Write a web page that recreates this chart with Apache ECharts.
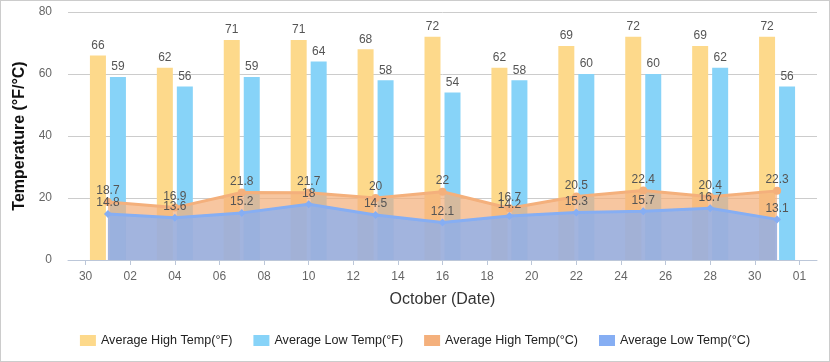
<!DOCTYPE html>
<html>
<head>
<meta charset="utf-8">
<script src="https://cdn.jsdelivr.net/npm/echarts@6/dist/echarts.min.js"></script>
<style>
  html, body { margin: 0; padding: 0; background: #fff; }
  #chart { width: 830px; height: 362px; box-sizing: border-box; border: 1px solid #ccc; }
</style>
</head>
<body>
<div id="chart"></div>
<script>
// ---- data ----
const dates = ['2023-10-01','2023-10-04','2023-10-07','2023-10-10','2023-10-13','2023-10-16','2023-10-19','2023-10-22','2023-10-25','2023-10-28','2023-10-31'];
const highF = [66, 62, 71, 71, 68, 72, 62, 69, 72, 69, 72];
const lowF  = [59, 56, 59, 64, 58, 54, 58, 60, 60, 62, 56];
const highC = [18.7, 16.9, 21.8, 21.7, 20, 22, 16.7, 20.5, 22.4, 20.4, 22.3];
const lowC  = [14.8, 13.6, 15.2, 18, 14.5, 12.1, 14.2, 15.3, 15.7, 16.7, 13.1];
const tickDates = ['2023-09-30','2023-10-02','2023-10-04','2023-10-06','2023-10-08','2023-10-10','2023-10-12','2023-10-14','2023-10-16','2023-10-18','2023-10-20','2023-10-22','2023-10-24','2023-10-26','2023-10-28','2023-10-30','2023-11-01'];
const tickLabels = ['30','02','04','06','08','10','12','14','16','18','20','22','24','26','28','30','01'];
const seriesNames = ['Average High Temp(°F)','Average Low Temp(°F)','Average High Temp(°C)','Average Low Temp(°C)'];
const yTicks = [0, 20, 40, 60, 80];

// ---- helpers: dates -> day offset from first tick date ----
const DAY = 86400000;
function utc(s) { const p = s.split('-').map(Number); return Date.UTC(p[0], p[1] - 1, p[2]); }
const origin = utc(tickDates[0]);
const dayOf = (s) => Math.round((utc(s) - origin) / DAY);
const tickDays = tickDates.map(dayOf);
const xMin = tickDays[0] - 0.79;
const xMax = tickDays[tickDays.length - 1] + 0.79;
const pairs = (vals) => dates.map((d, i) => [dayOf(d), vals[i]]);

const colors = ['#FDD98B', '#87D3F8', '#F4B07C', '#86AEF3'];
const labelColor = '#555';

const chart = echarts.init(document.getElementById('chart'), null, { renderer: 'canvas' });
chart.setOption({
  animation: false,
  color: colors,
  textStyle: { fontFamily: 'Liberation Sans, Arial, sans-serif' },
  grid: { left: 67, right: 12, top: 11, bottom: 101, containLabel: false },
  legend: {
    bottom: 9,
    left: 'center',
    itemWidth: 16,
    itemHeight: 11,
    itemGap: 21,
    icon: 'rect',
    textStyle: { fontSize: 12.6, color: '#222' },
    data: seriesNames
  },
  xAxis: {
    type: 'value',
    min: xMin,
    max: xMax,
    name: 'October (Date)',
    nameLocation: 'middle',
    nameGap: 32,
    nameTextStyle: { fontSize: 16, color: '#333' },
    axisLine: { show: true, lineStyle: { color: '#bcc7d9' } },
    axisTick: { show: true, length: 5, customValues: tickDays, lineStyle: { color: '#bcc7d9' } },
    axisLabel: {
      customValues: tickDays,
      color: '#666',
      fontSize: 12,
      margin: 11,
      formatter: function (v) {
        const i = tickDays.indexOf(Math.round(v));
        return i >= 0 ? tickLabels[i] : '';
      }
    },
    splitLine: { show: false }
  },
  yAxis: {
    type: 'value',
    min: yTicks[0],
    max: yTicks[yTicks.length - 1],
    interval: 20,
    name: 'Temperature (°F/°C)',
    nameLocation: 'middle',
    nameGap: 38,
    nameTextStyle: { fontSize: 16, fontWeight: 'bold', color: '#111' },
    axisLine: { show: false },
    axisTick: { show: false },
    axisLabel: { color: '#666', fontSize: 12, margin: 16 },
    splitLine: { lineStyle: { color: '#ccc' } }
  },
  series: [
    {
      name: seriesNames[0], type: 'bar', data: pairs(highF),
      barWidth: 16, barGap: '25%',
      label: { show: true, position: 'top', color: labelColor, fontSize: 12, distance: 4 }
    },
    {
      name: seriesNames[1], type: 'bar', data: pairs(lowF),
      barWidth: 16, barGap: '25%',
      label: { show: true, position: 'top', color: labelColor, fontSize: 12, distance: 4 }
    },
    {
      name: seriesNames[2], type: 'line', data: pairs(highC),
      symbol: 'circle', symbolSize: 8,
      lineStyle: { width: 3, color: colors[2] },
      itemStyle: { color: colors[2] },
      areaStyle: { color: colors[2], opacity: 0.72 },
      label: { show: true, position: 'top', color: labelColor, fontSize: 12, distance: 1 }
    },
    {
      name: seriesNames[3], type: 'line', data: pairs(lowC),
      symbol: 'diamond', symbolSize: 8,
      lineStyle: { width: 3, color: colors[3] },
      itemStyle: { color: colors[3] },
      areaStyle: { color: colors[3], opacity: 0.75 },
      label: { show: true, position: 'top', color: labelColor, fontSize: 12, distance: 1 }
    }
  ]
});
</script>
</body>
</html>
